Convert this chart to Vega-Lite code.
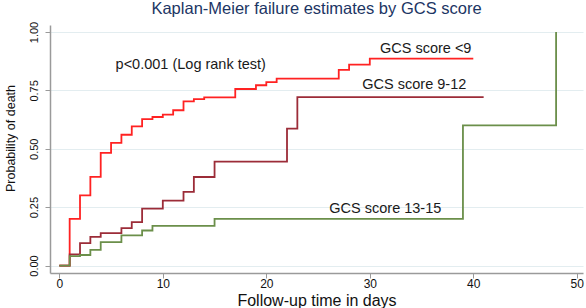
{
  "$schema": "https://vega.github.io/schema/vega-lite/v6.json",
  "width": 533,
  "height": 248,
  "autosize": {"type": "none"},
  "padding": {"left": 50, "top": 25, "right": 3, "bottom": 35},
  "background": "white",
  "title": {
    "text": "Kaplan-Meier failure estimates by GCS score",
    "font": "Liberation Sans",
    "fontSize": 16.5,
    "fontWeight": "normal",
    "color": "#1c3564",
    "anchor": "middle",
    "offset": 4
  },
  "config": {
    "view": {"stroke": null},
    "font": "Liberation Sans"
  },
  "datasets": {
    "km": [
      {"group": "GCS score <9", "day": 0, "p": 0},
      {"group": "GCS score <9", "day": 1, "p": 0.2},
      {"group": "GCS score <9", "day": 2, "p": 0.3},
      {"group": "GCS score <9", "day": 3, "p": 0.38},
      {"group": "GCS score <9", "day": 4, "p": 0.482},
      {"group": "GCS score <9", "day": 5, "p": 0.525},
      {"group": "GCS score <9", "day": 6, "p": 0.56},
      {"group": "GCS score <9", "day": 7, "p": 0.596},
      {"group": "GCS score <9", "day": 8, "p": 0.627},
      {"group": "GCS score <9", "day": 9, "p": 0.636},
      {"group": "GCS score <9", "day": 10, "p": 0.646},
      {"group": "GCS score <9", "day": 11, "p": 0.665},
      {"group": "GCS score <9", "day": 12, "p": 0.703},
      {"group": "GCS score <9", "day": 13, "p": 0.713},
      {"group": "GCS score <9", "day": 14, "p": 0.72},
      {"group": "GCS score <9", "day": 17, "p": 0.756},
      {"group": "GCS score <9", "day": 19, "p": 0.772},
      {"group": "GCS score <9", "day": 20, "p": 0.785},
      {"group": "GCS score <9", "day": 21, "p": 0.8},
      {"group": "GCS score <9", "day": 27, "p": 0.838},
      {"group": "GCS score <9", "day": 28, "p": 0.86},
      {"group": "GCS score <9", "day": 30, "p": 0.886},
      {"group": "GCS score <9", "day": 40, "p": 0.886},
      {"group": "GCS score 9-12", "day": 0, "p": 0},
      {"group": "GCS score 9-12", "day": 1, "p": 0.048},
      {"group": "GCS score 9-12", "day": 2, "p": 0.096},
      {"group": "GCS score 9-12", "day": 3, "p": 0.123},
      {"group": "GCS score 9-12", "day": 4, "p": 0.139},
      {"group": "GCS score 9-12", "day": 6, "p": 0.16},
      {"group": "GCS score 9-12", "day": 7, "p": 0.186},
      {"group": "GCS score 9-12", "day": 8, "p": 0.244},
      {"group": "GCS score 9-12", "day": 10, "p": 0.278},
      {"group": "GCS score 9-12", "day": 12, "p": 0.315},
      {"group": "GCS score 9-12", "day": 13, "p": 0.379},
      {"group": "GCS score 9-12", "day": 15, "p": 0.445},
      {"group": "GCS score 9-12", "day": 22, "p": 0.586},
      {"group": "GCS score 9-12", "day": 23, "p": 0.721},
      {"group": "GCS score 9-12", "day": 41, "p": 0.721},
      {"group": "GCS score 13-15", "day": 0, "p": 0},
      {"group": "GCS score 13-15", "day": 1, "p": 0.04},
      {"group": "GCS score 13-15", "day": 2, "p": 0.045},
      {"group": "GCS score 13-15", "day": 3, "p": 0.067},
      {"group": "GCS score 13-15", "day": 4, "p": 0.1},
      {"group": "GCS score 13-15", "day": 6, "p": 0.129},
      {"group": "GCS score 13-15", "day": 8, "p": 0.15},
      {"group": "GCS score 13-15", "day": 9, "p": 0.17},
      {"group": "GCS score 13-15", "day": 15, "p": 0.2},
      {"group": "GCS score 13-15", "day": 39, "p": 0.6},
      {"group": "GCS score 13-15", "day": 48, "p": 1.0}
    ],
    "notes": [
      {"label": "p<0.001 (Log rank test)", "day": 12.7, "p": 0.857},
      {"label": "GCS score <9", "day": 35.4, "p": 0.928},
      {"label": "GCS score 9-12", "day": 34.3, "p": 0.771},
      {"label": "GCS score 13-15", "day": 31.5, "p": 0.244}
    ]
  },
  "layer": [
    {
      "data": {"name": "km"},
      "mark": {"type": "line", "interpolate": "step-after", "strokeWidth": 1.8, "clip": false},
      "encoding": {
        "x": {
          "field": "day", "type": "quantitative",
          "scale": {"domain": [-0.9, 50.6], "nice": false, "zero": false},
          "axis": {
            "values": [0, 10, 20, 30, 40, 50],
            "grid": false,
            "title": "Follow-up time in days",
            "titleFont": "Liberation Sans",
            "titleFontSize": 16,
            "titleFontWeight": "normal",
            "titleColor": "#111111",
            "titleBaseline": "alphabetic",
            "titleY": 32,
            "domainColor": "#9a9a9a",
            "domainWidth": 1.5,
            "tickColor": "#9a9a9a",
            "tickSize": 5,
            "labelFontSize": 12,
            "labelColor": "#111111",
            "labelPadding": 0,
            "labelFlush": false
          }
        },
        "y": {
          "field": "p", "type": "quantitative",
          "scale": {"domain": [-0.032, 1.03], "nice": false, "zero": false},
          "axis": {
            "values": [0, 0.25, 0.5, 0.75, 1],
            "format": ".2f",
            "grid": true,
            "gridColor": "#e3edf0",
            "gridWidth": 1,
            "title": "Probability of death",
            "titleFont": "Liberation Sans",
            "titleFontSize": 12.5,
            "titleFontWeight": "normal",
            "titleColor": "#111111",
            "titleAngle": -90,
            "titleAlign": "center",
            "titleBaseline": "middle",
            "titleX": -40,
            "titleY": 113,
            "domainColor": "#9a9a9a",
            "domainWidth": 1.5,
            "tickColor": "#9a9a9a",
            "tickSize": 5,
            "labelAngle": -90,
            "labelAlign": "center",
            "labelBaseline": "bottom",
            "labelFontSize": 11,
            "labelColor": "#111111",
            "labelPadding": 6,
            "labelFlush": false
          }
        },
        "color": {
          "field": "group", "type": "nominal",
          "scale": {
            "domain": ["GCS score <9", "GCS score 9-12", "GCS score 13-15"],
            "range": ["#ff2222", "#9c2c38", "#6b8f4a"]
          },
          "legend": null
        },
        "order": {"field": "day", "type": "quantitative"}
      }
    },
    {
      "data": {"name": "notes"},
      "mark": {"type": "text", "font": "Liberation Sans", "fontSize": 14.5, "color": "#1a1a1a", "align": "center", "baseline": "middle"},
      "encoding": {
        "x": {"field": "day", "type": "quantitative"},
        "y": {"field": "p", "type": "quantitative"},
        "text": {"field": "label", "type": "nominal"}
      }
    }
  ]
}
